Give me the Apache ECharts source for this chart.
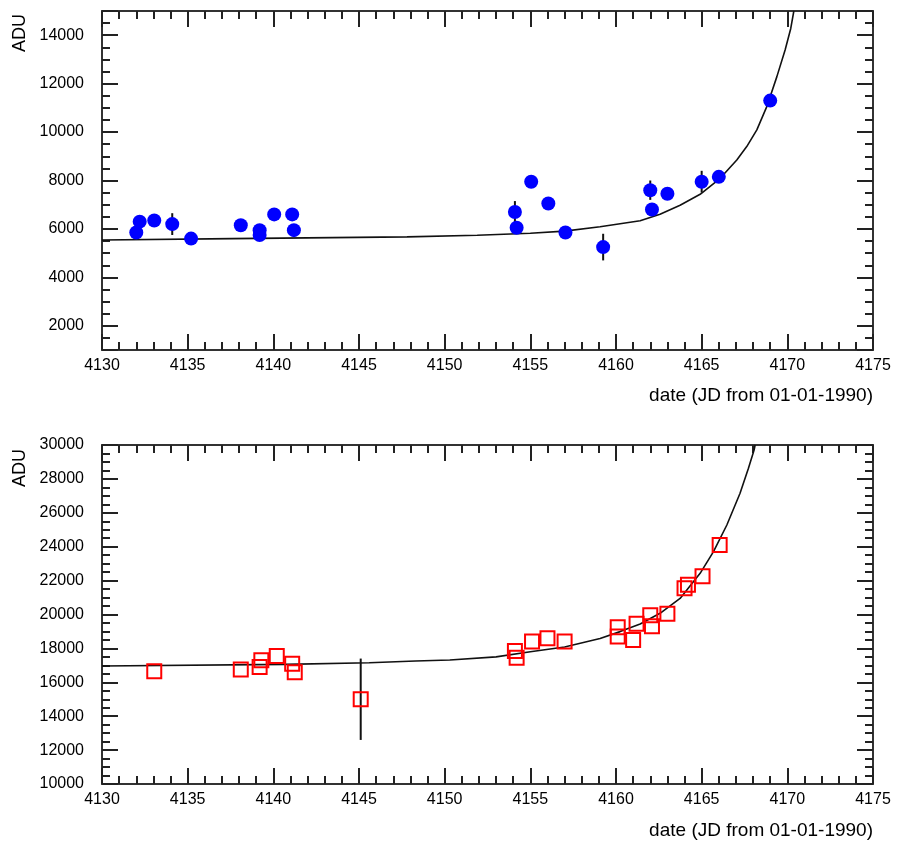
<!DOCTYPE html>
<html>
<head>
<meta charset="utf-8">
<script src="https://cdn.jsdelivr.net/npm/echarts@6/dist/echarts.min.js"></script>
<style>
  html, body { margin: 0; padding: 0; background: #fff; }
  #chart { width: 899px; height: 847px; }
</style>
</head>
<body>
<div id="chart"></div>
<script>
// top panel: measured points (blue)
const topDates = [4132.0, 4132.2, 4133.05, 4134.1, 4135.2, 4138.1, 4139.2, 4139.2, 4140.05, 4141.1, 4141.2,
  4154.1, 4154.2, 4155.05, 4156.05, 4157.05, 4159.25, 4162.0, 4162.1, 4163.0, 4165.0, 4166.0, 4169.0]
const topADU = [5850, 6300, 6350, 6200, 5600, 6150, 5950, 5750, 6600, 6600, 5950,
  6700, 6050, 7950, 7050, 5850, 5250, 7600, 6800, 7450, 7950, 8150, 11300]
const topErr = [0, 0, 0, 450, 0, 0, 0, 0, 0, 0, 0,
  450, 0, 0, 0, 0, 550, 400, 0, 0, 450, 0, 0]

// top panel: fitted curve
const topFitX = [4130, 4137.6, 4147.8, 4151.9, 4155, 4157, 4159.07, 4161.41, 4162.57, 4163.74, 4164.91,
  4166.08, 4167.05, 4167.63, 4168.22, 4168.8, 4169.39, 4169.87, 4170.2, 4170.38]
const topFitY = [5540, 5600, 5670, 5740, 5820, 5910, 6090, 6340, 6610, 6980, 7430,
  8090, 8850, 9400, 10090, 11050, 12290, 13390, 14280, 15000]

// bottom panel: measured points (red squares)
const botDates = [4133.05, 4138.1, 4139.2, 4139.3, 4140.2, 4141.1, 4141.25, 4145.1,
  4154.1, 4154.2, 4155.1, 4156.0, 4157.0, 4160.1, 4160.1, 4161.0, 4161.2, 4162.0, 4162.1,
  4163.0, 4164.0, 4164.2, 4165.05, 4166.05]
const botADU = [16650, 16750, 16900, 17300, 17550, 17100, 16600, 15000,
  17850, 17450, 18400, 18600, 18400, 19250, 18700, 18500, 19450, 19950, 19300,
  20050, 21550, 21750, 22250, 24100]
const botErr = [0, 0, 0, 0, 0, 0, 0, 2400,
  0, 0, 0, 0, 0, 0, 0, 0, 0, 0, 0,
  0, 0, 0, 0, 0]

// bottom panel: fitted curve
const botFitX = [4130, 4140.7, 4145.6, 4148.3, 4150.3, 4153, 4155, 4157, 4159.07, 4160.24, 4161.41,
  4162.57, 4163.74, 4164.91, 4165.69, 4166.47, 4167.24, 4167.73, 4168.06, 4168.12]
const botFitY = [16960, 17060, 17150, 17260, 17320, 17500, 17800, 18080, 18580, 18990, 19440,
  20070, 20950, 22430, 23710, 25280, 27150, 28630, 29700, 30000]

const xTicks = { min: 4130, max: 4175, interval: 5 }
const topRange = { min: 1000, max: 15000, splitNumber: 7 }
const botRange = { min: 10000, max: 30000, interval: 2000 }

const FONT = 'Liberation Sans'
const frame = { show: true, lineStyle: { color: '#333', width: 2 } }
const tick = { show: true, inside: true, length: 16, lineStyle: { color: '#222', width: 2 } }
const plain = v => String(v)

const makeX = (grid, pos, labels) => ({
  type: 'value',
  gridIndex: grid,
  position: pos,
  ...xTicks,
  axisLine: { ...frame, onZero: false },
  axisTick: tick,
  minorTick: { show: true, splitNumber: 5, length: 8, lineStyle: { color: '#222', width: 2 } },
  splitLine: { show: false },
  axisLabel: { show: labels, formatter: plain, color: '#000', fontFamily: FONT, fontSize: 16, margin: 8 }
})

const makeY = (grid, pos, labels, range, edgeLabels) => ({
  type: 'value',
  gridIndex: grid,
  position: pos,
  ...range,
  axisLine: { ...frame, onZero: false },
  axisTick: tick,
  minorTick: { show: true, splitNumber: 4, length: 8, lineStyle: { color: '#222', width: 2 } },
  splitLine: { show: false },
  axisLabel: {
    show: labels, formatter: plain, color: '#000', fontFamily: FONT, fontSize: 16, margin: 18,
    showMinLabel: edgeLabels, showMaxLabel: edgeLabels
  }
})

// vertical error bars, only where they show outside the marker
const errorBars = (xs, ys, es, xi, yi) => ({
  type: 'custom',
  xAxisIndex: xi,
  yAxisIndex: yi,
  z: 3,
  data: xs.map((x, i) => [x, ys[i] - es[i], ys[i] + es[i]]).filter((d, i) => es[i] > 0),
  encode: { x: 0, y: [1, 2] },
  renderItem: (params, api) => {
    const a = api.coord([api.value(0), api.value(1)])
    const b = api.coord([api.value(0), api.value(2)])
    return {
      type: 'line',
      shape: { x1: a[0], y1: a[1], x2: b[0], y2: b[1] },
      style: { stroke: '#111', lineWidth: 2 }
    }
  }
})

const fitLine = (xs, ys, xi, yi) => ({
  type: 'line',
  xAxisIndex: xi,
  yAxisIndex: yi,
  data: xs.map((x, i) => [x, ys[i]]),
  showSymbol: false,
  smooth: false,
  lineStyle: { color: '#111', width: 1.6 },
  z: 2
})

const chart = echarts.init(document.getElementById('chart'), null, { renderer: 'canvas' })

const axisName = (x, y, text, rot, align) => ({
  type: 'text', x, y, rotation: rot,
  style: { text, fill: '#000', font: (rot ? 18 : 19) + 'px "' + FONT + '"', align, verticalAlign: 'middle' }
})

const option = {
  animation: false,
  backgroundColor: '#fff',
  grid: [
    { left: 102, top: 11, width: 771, height: 339 },
    { left: 102, top: 445, width: 771, height: 339 }
  ],
  xAxis: [
    makeX(0, 'bottom', true),
    makeX(0, 'top', false),
    makeX(1, 'bottom', true),
    makeX(1, 'top', false)
  ],
  yAxis: [
    makeY(0, 'left', true, topRange, false),
    makeY(0, 'right', false, topRange, false),
    makeY(1, 'left', true, botRange, true),
    makeY(1, 'right', false, botRange, true)
  ],
  graphic: [
    axisName(20, 33, 'ADU', Math.PI / 2, 'center'),
    axisName(20, 468, 'ADU', Math.PI / 2, 'center'),
    axisName(873, 396, 'date (JD from 01-01-1990)', 0, 'right'),
    axisName(873, 831, 'date (JD from 01-01-1990)', 0, 'right')
  ],
  series: [
    fitLine(topFitX, topFitY, 0, 0),
    errorBars(topDates, topADU, topErr, 0, 0),
    {
      type: 'scatter',
      xAxisIndex: 0,
      yAxisIndex: 0,
      data: topDates.map((x, i) => [x, topADU[i]]),
      symbol: 'circle',
      symbolSize: 14,
      itemStyle: { color: '#0000ff', opacity: 1 },
      z: 4
    },
    fitLine(botFitX, botFitY, 2, 2),
    errorBars(botDates, botADU, botErr, 2, 2),
    {
      type: 'scatter',
      xAxisIndex: 2,
      yAxisIndex: 2,
      data: botDates.map((x, i) => [x, botADU[i]]),
      symbol: 'rect',
      symbolSize: 14,
      itemStyle: { color: 'rgba(0,0,0,0)', borderColor: '#ff0000', borderWidth: 2, opacity: 1 },
      z: 4
    }
  ]
}

chart.setOption(option)
</script>
</body>
</html>
